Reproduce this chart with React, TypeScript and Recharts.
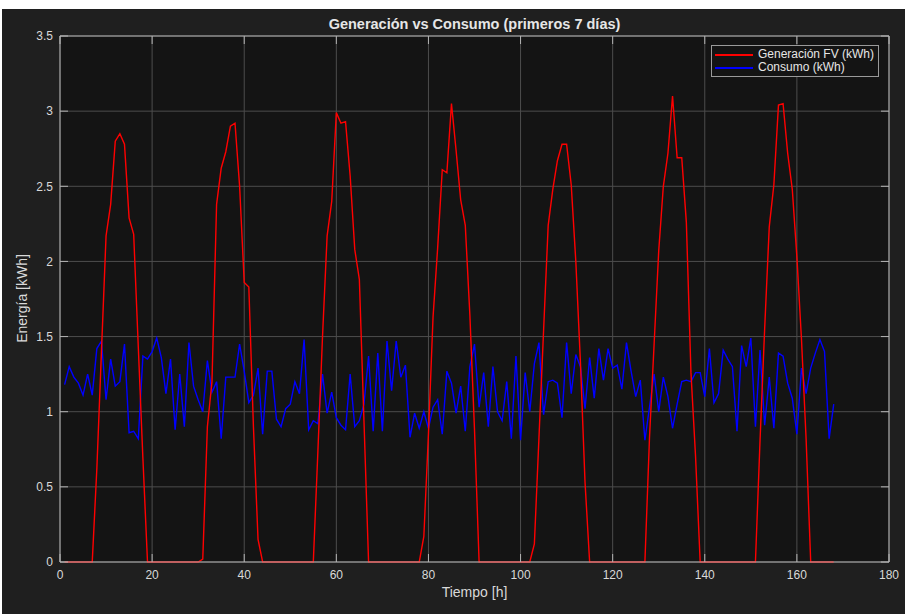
import { CartesianGrid, Legend, Line, LineChart, XAxis, YAxis } from "recharts";

// Hourly PV generation vs consumption, first 7 days (MATLAB dark look).

const hours = Array.from({ length: 168 }, (_, i) => i + 1);

// kWh per hour, one row per day
const generacion = [
  0, 0, 0, 0, 0, 0, 0, 0.62, 1.4, 2.17, 2.38, 2.8, 2.85, 2.78, 2.29, 2.18, 1.43, 0.69, 0, 0, 0, 0, 0, 0,
  0, 0, 0, 0, 0, 0, 0.02, 0.9, 1.2, 2.38, 2.62, 2.73, 2.9, 2.92, 2.5, 1.86, 1.83, 0.9, 0.15, 0, 0, 0, 0, 0,
  0, 0, 0, 0, 0, 0, 0, 0.74, 1.5, 2.17, 2.4, 2.99, 2.92, 2.93, 2.57, 2.08, 1.88, 0.94, 0, 0, 0, 0, 0, 0,
  0, 0, 0, 0, 0, 0, 0.17, 0.85, 1.63, 2.09, 2.61, 2.59, 3.05, 2.74, 2.41, 2.24, 1.64, 0.88, 0, 0, 0, 0, 0, 0,
  0, 0, 0, 0, 0, 0, 0.12, 0.83, 1.54, 2.24, 2.48, 2.67, 2.78, 2.78, 2.51, 2.0, 1.33, 0.53, 0, 0, 0, 0, 0, 0,
  0, 0, 0, 0, 0, 0, 0, 0.83, 1.45, 2.07, 2.5, 2.72, 3.1, 2.69, 2.69, 2.26, 1.26, 0.7, 0, 0, 0, 0, 0, 0,
  0, 0, 0, 0, 0, 0, 0, 0.81, 1.55, 2.23, 2.51, 3.04, 3.05, 2.72, 2.48, 2.03, 1.48, 0.82, 0, 0, 0, 0, 0, 0,
];

const consumo = [
  1.18, 1.3, 1.23, 1.19, 1.11, 1.25, 1.11, 1.42, 1.47, 1.08, 1.35, 1.17, 1.2, 1.45, 0.86, 0.87, 0.82, 1.37, 1.35, 1.4, 1.49, 1.36, 1.12, 1.35,
  0.88, 1.25, 0.9, 1.46, 1.17, 1.08, 1.0, 1.34, 1.13, 1.2, 0.82, 1.23, 1.23, 1.23, 1.45, 1.27, 1.06, 1.11, 1.29, 0.85, 1.27, 1.27, 0.95, 0.9,
  1.02, 1.05, 1.2, 1.12, 1.48, 0.88, 0.94, 0.92, 1.25, 0.99, 1.13, 0.96, 0.91, 0.88, 1.25, 0.9, 0.94, 1.05, 1.37, 0.87, 1.39, 0.87, 1.47, 1.14,
  1.47, 1.23, 1.31, 0.83, 0.99, 0.89, 1.0, 0.89, 1.03, 1.08, 0.85, 1.27, 1.19, 0.99, 1.17, 0.87, 1.3, 1.45, 1.03, 1.26, 0.9, 1.3, 1.0, 0.94,
  1.2, 0.82, 1.37, 0.81, 1.26, 1.0, 1.32, 1.46, 0.98, 1.2, 1.21, 1.19, 0.96, 1.46, 1.12, 1.38, 1.3, 1.02, 1.36, 1.09, 1.42, 1.21, 1.42, 1.29,
  1.31, 1.15, 1.46, 1.27, 1.1, 1.21, 0.81, 1.03, 1.25, 1.0, 1.23, 1.1, 0.89, 1.05, 1.2, 1.21, 1.2, 1.26, 1.26, 1.1, 1.42, 1.06, 1.12, 1.41,
  1.35, 1.3, 0.87, 1.44, 1.3, 1.49, 0.9, 1.41, 0.91, 1.23, 0.89, 1.39, 1.37, 1.19, 1.09, 0.85, 1.29, 1.12, 1.29, 1.39, 1.48, 1.4, 0.82, 1.05,
];

const xTicks = [0, 20, 40, 60, 80, 100, 120, 140, 160, 180];
const yTicks = [0, 0.5, 1, 1.5, 2, 2.5, 3, 3.5];

const seriesNames = ["Generación FV (kWh)", "Consumo (kWh)"];
const seriesColors = ["#ff0000", "#0000ff"];

const data = hours.map((t, i) => ({ t, gen: generacion[i], con: consumo[i] }));

const FONT = '"Liberation Sans", Arial, Helvetica, sans-serif';
const FIG_BG = "#1f1f1f";
const AX_BG = "#141414";
const GRID = "#4d4d4d";
const BOX = "#b4b4b4";
const TXT = "#d9d9d9";

const tickStyle = { fill: TXT, fontSize: 12, fontFamily: FONT };
const blank = () => "";

function LegendBox() {
  return (
    <div
      style={{
        background: AX_BG,
        border: "1px solid #9a9a9a",
        padding: "2px 4px 2px 3px",
        fontFamily: FONT,
        fontSize: 12,
        lineHeight: "13px",
        color: "#e6e6e6",
        whiteSpace: "nowrap",
      }}
    >
      {seriesNames.map((name, i) => (
        <div key={name} style={{ display: "flex", alignItems: "center", height: 13 }}>
          <div style={{ width: 38, height: 2, background: seriesColors[i], marginRight: 5, flex: "none" }} />
          <span>{name}</span>
        </div>
      ))}
    </div>
  );
}

export default function App() {
  return (
    <div style={{ position: "fixed", left: 0, top: 0, width: 907, height: 614, background: "#ffffff" }}>
      <div style={{ position: "absolute", left: 2, top: 9, width: 903, height: 605, background: FIG_BG }}>
        <LineChart width={903} height={605} data={data} margin={{ top: 17, right: 6, bottom: 22, left: 0 }}>
          <CartesianGrid stroke={GRID} strokeWidth={1} fill={AX_BG} horizontalValues={yTicks} verticalValues={xTicks} />
          <XAxis
            dataKey="t"
            type="number"
            domain={[0, 180]}
            ticks={xTicks}
            height={30}
            tick={tickStyle}
            tickSize={-8}
            tickMargin={16}
            axisLine={{ stroke: BOX }}
            tickLine={{ stroke: BOX }}
          />
          <XAxis
            xAxisId="top"
            orientation="top"
            dataKey="t"
            type="number"
            domain={[0, 180]}
            ticks={xTicks}
            height={10}
            tickFormatter={blank}
            tickSize={-8}
            axisLine={{ stroke: BOX }}
            tickLine={{ stroke: BOX }}
          />
          <YAxis
            type="number"
            domain={[0, 3.5]}
            ticks={yTicks}
            width={58}
            tick={tickStyle}
            tickSize={-8}
            tickMargin={15}
            axisLine={{ stroke: BOX }}
            tickLine={{ stroke: BOX }}
          />
          <YAxis
            yAxisId="right"
            orientation="right"
            type="number"
            domain={[0, 3.5]}
            ticks={yTicks}
            width={10}
            tickFormatter={blank}
            tickSize={-8}
            axisLine={{ stroke: BOX }}
            tickLine={{ stroke: BOX }}
          />
          <Legend
            layout="vertical"
            align="center"
            verticalAlign="middle"
            content={() => <LegendBox />}
            wrapperStyle={{ top: 36, left: 709, width: 168 }}
          />
          <Line
            xAxisId="top"
            yAxisId="right"
            type="linear"
            dataKey="con"
            name={seriesNames[1]}
            stroke={seriesColors[1]}
            strokeWidth={1.4}
            dot={false}
            activeDot={false}
            isAnimationActive={false}
          />
          <Line
            type="linear"
            dataKey="gen"
            name={seriesNames[0]}
            stroke={seriesColors[0]}
            strokeWidth={1.4}
            dot={false}
            activeDot={false}
            isAnimationActive={false}
          />
        </LineChart>
        <div
          style={{
            position: "absolute",
            left: 58,
            top: 6,
            width: 829,
            textAlign: "center",
            fontFamily: FONT,
            fontWeight: "bold",
            fontSize: 14.5,
            lineHeight: "18px",
            color: "#e6e6e6",
          }}
        >
          Generación vs Consumo (primeros 7 días)
        </div>
        <div
          style={{
            position: "absolute",
            left: 58,
            top: 575,
            width: 829,
            textAlign: "center",
            fontFamily: FONT,
            fontSize: 14,
            lineHeight: "17px",
            color: TXT,
          }}
        >
          Tiempo [h]
        </div>
        <div
          style={{
            position: "absolute",
            left: -80,
            top: 281,
            width: 200,
            textAlign: "center",
            fontFamily: FONT,
            fontSize: 14,
            lineHeight: "17px",
            color: TXT,
            transform: "rotate(-90deg)",
          }}
        >
          Energía [kWh]
        </div>
      </div>
    </div>
  );
}
